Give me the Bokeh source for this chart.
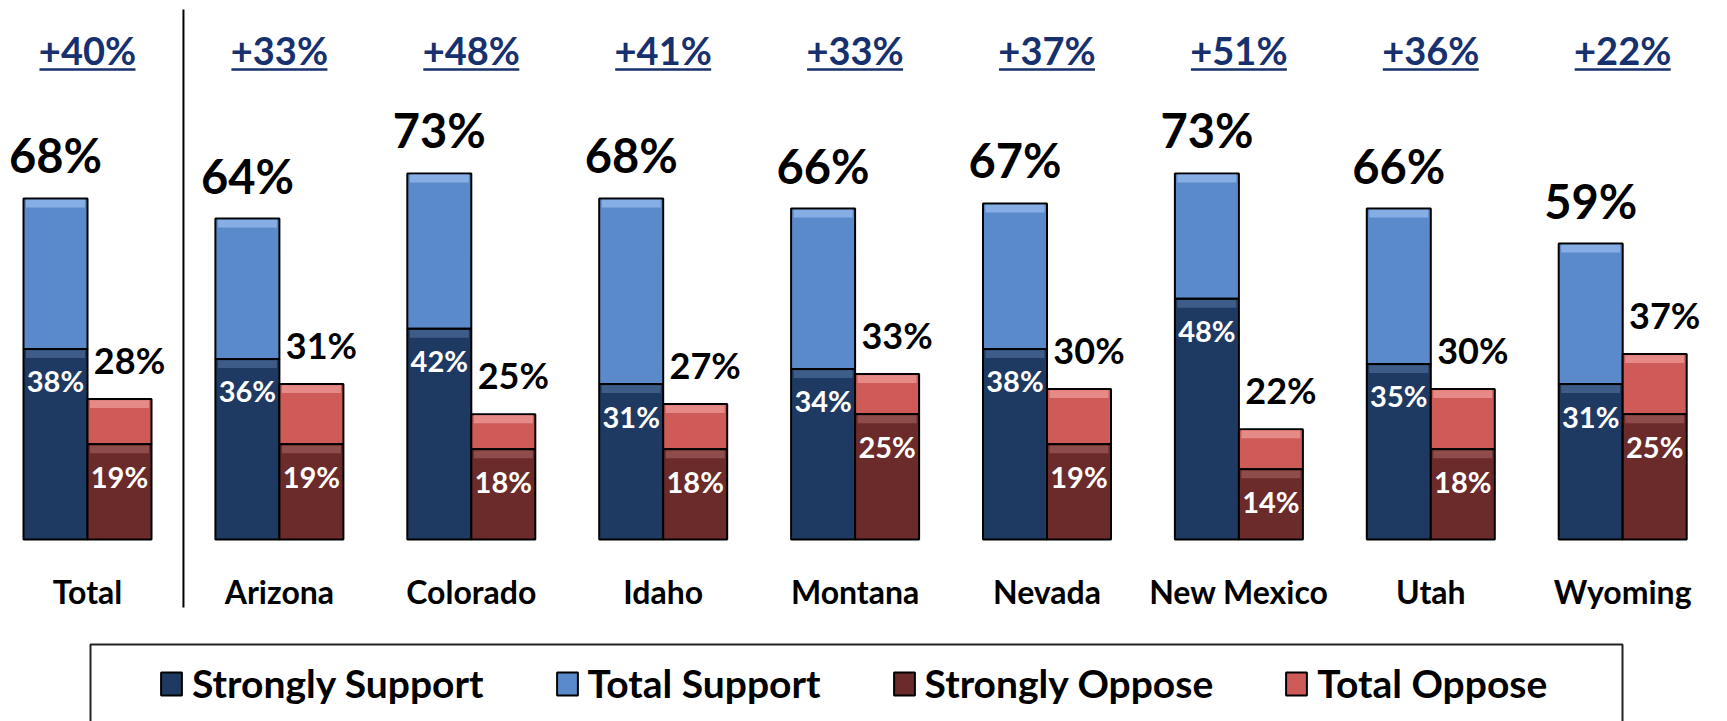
from bokeh.plotting import figure
from bokeh.models import ColumnDataSource, Range1d, Legend, LegendItem, BoxAnnotation
from bokeh.transform import dodge
from bokeh.core.properties import value
from bokeh.embed import file_html
from bokeh.resources import INLINE

# ---------------- data ----------------
categories = ["Total", "Arizona", "Colorado", "Idaho", "Montana", "Nevada",
              "New Mexico", "Utah", "Wyoming"]
strongly_support = [38, 36, 42, 31, 34, 38, 48, 35, 31]
total_support = [68, 64, 73, 68, 66, 67, 73, 66, 59]
strongly_oppose = [19, 19, 18, 18, 25, 19, 14, 18, 25]
total_oppose = [28, 31, 25, 27, 33, 30, 22, 30, 37]
net_labels = ["+40%", "+33%", "+48%", "+41%", "+33%", "+37%", "+51%", "+36%", "+22%"]
series_names = ["Strongly Support", "Total Support", "Strongly Oppose", "Total Oppose"]

# ---------------- style / layout ----------------
W, H = 1727, 721
C_SS, C_SS_HI = "#1F3A62", "#3E5C88"
C_TS, C_TS_HI = "#5A8ACA", "#86AEE4"
C_SO, C_SO_HI = "#6B2B2A", "#8E4C4A"
C_TO, C_TO_HI = "#CE5B58", "#E58A87"
C_NET = "#17306E"
FONT = value("Lato")

X0, XSTEP = 87.0, 191.9      # page px of first category centre, px per category
BASE, YPX = 539.0, 5.015     # page px of baseline, px per percent


def xd(px):
    return (px - X0) / XSTEP


def yd(py):
    return (BASE - py) / YPX


BW = 64 / XSTEP          # bar width in category units
OFF = BW / 2
HI_W = BW - 5 / XSTEP    # highlight strip width (inside outline)
HI_T, HI_B = 1.2 / YPX, 9 / YPX

src = ColumnDataSource(dict(
    idx=list(range(len(categories))),
    cat=categories,
    ss=strongly_support, ts=total_support,
    so=strongly_oppose, to=total_oppose,
    ss_l=[f"{v}%" for v in strongly_support],
    ts_l=[f"{v}%" for v in total_support],
    so_l=[f"{v}%" for v in strongly_oppose],
    to_l=[f"{v}%" for v in total_oppose],
    ss_hi_t=[v - HI_T for v in strongly_support],
    ss_hi_b=[v - HI_B for v in strongly_support],
    ts_hi_t=[v - HI_T for v in total_support],
    ts_hi_b=[v - HI_B for v in total_support],
    so_hi_t=[v - HI_T for v in strongly_oppose],
    so_hi_b=[v - HI_B for v in strongly_oppose],
    to_hi_t=[v - HI_T for v in total_oppose],
    to_hi_b=[v - HI_B for v in total_oppose],
    net=net_labels,
))

p = figure(width=W, height=H, output_backend="svg", toolbar_location=None,
           x_range=Range1d(xd(0), xd(W)), y_range=Range1d(yd(H), yd(0)),
           x_axis_location=None, y_axis_location=None, min_border=0,
           background_fill_color="white", border_fill_color="white")
p.outline_line_color = None
p.grid.visible = False

xs = dodge("idx", -OFF, range=p.x_range)
xo = dodge("idx", OFF, range=p.x_range)

r_ts = p.vbar(x=xs, bottom="ss", top="ts", width=BW, source=src,
              fill_color=C_TS, line_color="black", line_width=2)
r_ss = p.vbar(x=xs, bottom=0, top="ss", width=BW, source=src,
              fill_color=C_SS, line_color="black", line_width=2)
r_to = p.vbar(x=xo, bottom="so", top="to", width=BW, source=src,
              fill_color=C_TO, line_color="black", line_width=2)
r_so = p.vbar(x=xo, bottom=0, top="so", width=BW, source=src,
              fill_color=C_SO, line_color="black", line_width=2)

# bevel highlights at top of each segment
for xx, t, b, c in [(xs, "ts_hi_t", "ts_hi_b", C_TS_HI), (xs, "ss_hi_t", "ss_hi_b", C_SS_HI),
                    (xo, "to_hi_t", "to_hi_b", C_TO_HI), (xo, "so_hi_t", "so_hi_b", C_SO_HI)]:
    p.vbar(x=xx, bottom=b, top=t, width=HI_W, source=src, fill_color=c,
           line_color=None)

# top value labels
p.text(x=xs, y="ts", text="ts_l", source=src, text_align="center",
       text_baseline="alphabetic", y_offset=-43, text_font=FONT,
       text_font_style="bold", text_font_size="47px", text_color="black")
p.text(x=xo, y="to", text="to_l", source=src, text_align="center",
       text_baseline="alphabetic", x_offset=10, y_offset=-39, text_font=FONT,
       text_font_style="bold", text_font_size="36px", text_color="black")
# inner labels
p.text(x=xs, y="ss", text="ss_l", source=src, text_align="center",
       text_baseline="alphabetic", y_offset=32, text_font=FONT,
       text_font_style="bold", text_font_size="29px", text_color="white")
p.text(x=xo, y="so", text="so_l", source=src, text_align="center",
       text_baseline="alphabetic", y_offset=32, text_font=FONT,
       text_font_style="bold", text_font_size="29px", text_color="white")

# net difference row (underlined)
p.text(x="idx", y=yd(49), text="net", source=src, text_align="center",
       text_baseline="alphabetic", text_font=FONT, text_font_style="bold",
       text_font_size="38px", text_color=C_NET)
UL = 48 / XSTEP
src_ul = ColumnDataSource(dict(x0=[i - UL for i in range(len(categories))],
                               x1=[i + UL for i in range(len(categories))]))
p.segment(x0="x0", x1="x1", y0=yd(69), y1=yd(69), source=src_ul,
          line_color=C_NET, line_width=2.5)

# category labels
p.text(x="idx", y=yd(591), text="cat", source=src, text_align="center",
       text_baseline="alphabetic", text_font=FONT, text_font_style="bold",
       text_font_size="32px", text_color="black")

# divider between Total and states
p.segment(x0=[0.5], x1=[0.5], y0=[yd(607)], y1=[yd(9)], line_color="black",
          line_width=2)

# legend frame
box = BoxAnnotation(left=xd(90), right=xd(1622), top=yd(644), bottom=yd(800),
                    fill_color="white", fill_alpha=1.0, line_color="#222222",
                    line_alpha=1.0, line_width=2)
p.add_layout(box)

legend = Legend(items=[
    LegendItem(label=series_names[0], renderers=[r_ss]),
    LegendItem(label=series_names[1], renderers=[r_ts]),
    LegendItem(label=series_names[2], renderers=[r_so]),
    LegendItem(label=series_names[3], renderers=[r_to]),
], orientation="horizontal", location=(158, 15), padding=0, margin=0,
    spacing=70, glyph_width=26, glyph_height=29, label_standoff=8,
    label_text_font="Lato", label_text_font_style="bold",
    label_text_color="black",
    label_text_font_size="39px", border_line_alpha=0, background_fill_alpha=0)
p.add_layout(legend)

open("out.html", "w").write(file_html(p, INLINE))
